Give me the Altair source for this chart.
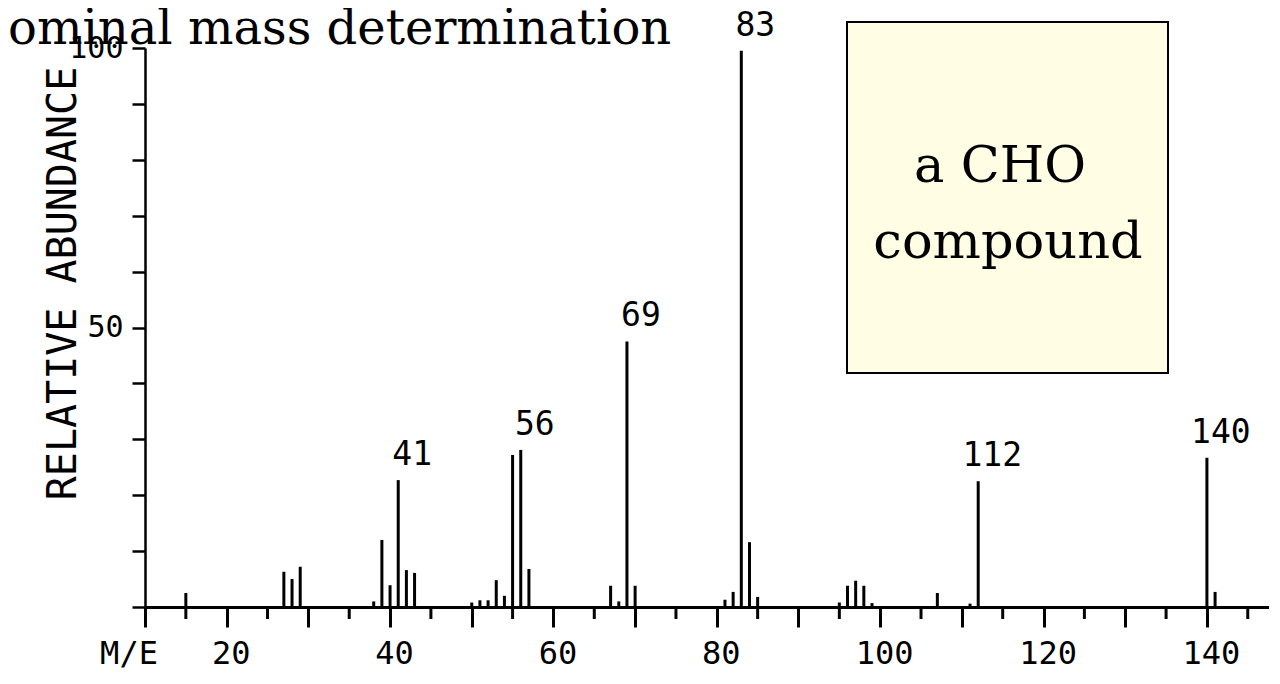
import altair as alt
import pandas as pd

# ---- data ----
mz = [15, 27, 28, 29, 38, 39, 40, 41, 42, 43, 50, 51, 52, 53, 54, 55, 56, 57,
      67, 68, 69, 70, 81, 82, 83, 84, 85, 95, 96, 97, 98, 99, 107, 111, 112, 140, 141]
abundance = [2.5, 6.3, 5.0, 7.2, 1.0, 12.0, 3.9, 22.7, 6.6, 6.1, 0.8, 1.2, 1.2, 4.8, 2.0, 27.2, 28.1, 6.8,
             3.8, 1.0, 47.5, 3.8, 1.3, 2.7, 99.5, 11.6, 1.8, 0.8, 3.8, 4.7, 3.8, 0.7, 2.5, 0.6, 22.5, 26.7, 2.7]
label_mz = [41, 56, 69, 83, 112, 140]
major_ticks = [10, 20, 30, 40, 50, 60, 70, 80, 90, 100, 110, 120, 130, 140]
minor_ticks = [15, 25, 35, 45, 55, 65, 75, 85, 95, 105, 115, 125, 135, 145]
y_ticks = [0, 10, 20, 30, 40, 50, 60, 70, 80, 90, 100]
title_text = ["ominal mass determination"]
box_lines = ["a CHO", "compound"]
y_title = "RELATIVE ABUNDANCE"
x_title = ["M/E"]

MONO = "DejaVu Sans Mono"
SERIF = "DejaVu Serif"

spec = pd.DataFrame({"mz": mz, "abundance": abundance})
lab = spec[spec["mz"].isin(label_mz)].copy()
lab["label"] = lab["mz"].astype(str)
minor = pd.DataFrame({"mz": minor_ticks, "abundance": [0] * len(minor_ticks)})

xscale = alt.Scale(domain=[10, 147.6], nice=False, zero=False)
yscale = alt.Scale(domain=[0, 100], nice=False)

x_axis = alt.Axis(values=major_ticks, tickSize=20, tickWidth=3, tickColor="black",
                  domainWidth=3, domainColor="black", grid=False, title=None,
                  labelExpr="datum.value % 20 == 0 ? datum.label : ''",
                  labelFont=MONO, labelFontSize=32, labelColor="black",
                  labelPadding=11, labelOffset=4, labelOverlap=False)
y_axis = alt.Axis(values=y_ticks, tickSize=13, tickWidth=2.5, tickColor="black",
                  domainWidth=2.5, domainColor="black", grid=False,
                  labelExpr="datum.value == 50 || datum.value == 100 ? datum.label : ''",
                  labelFont=MONO, labelFontSize=30, labelColor="black", labelPadding=9,
                  labelOverlap=False,
                  title=y_title, titleFont=MONO, titleFontSize=40, titleFontWeight="normal",
                  titleColor="black", titleX=-82, titleY=235, titleAngle=270,
                  titleAlign="center", titleBaseline="middle")

X = alt.X("mz:Q", scale=xscale, axis=x_axis)
Y = alt.Y("abundance:Q", scale=yscale, axis=y_axis)

bars = alt.Chart(spec).mark_rule(color="black", strokeWidth=3).encode(
    x=X, y=Y, y2=alt.datum(0),
)

minor_rules = alt.Chart(minor).mark_rule(color="black", strokeWidth=3).encode(
    x=X, y=alt.value(559), y2=alt.value(571),
)

peak_labels = alt.Chart(lab).mark_text(font=MONO, fontSize=33, dx=14, dy=-25,
                                       baseline="middle", color="black").encode(
    x=X, y=Y, text="label:N",
)

me_text = alt.Chart(pd.DataFrame({"t": x_title})).mark_text(
    font=MONO, fontSize=32, baseline="middle", align="center", color="black").encode(
    x=alt.value(-16), y=alt.value(606), text="t:N")

title = alt.Chart(pd.DataFrame({"t": title_text})).mark_text(
    font=SERIF, fontSize=48, align="left", baseline="alphabetic", color="black").encode(
    x=alt.value(-137), y=alt.value(-4), text="t:N")

box = alt.Chart(pd.DataFrame({"b": [0]})).mark_rect(
    fill="#FFFDE4", stroke="black", strokeWidth=2).encode(
    x=alt.value(702), x2=alt.value(1023), y=alt.value(-26), y2=alt.value(325))

box_t1 = alt.Chart(pd.DataFrame({"t": [box_lines[0]]})).mark_text(
    font=SERIF, fontSize=51, align="center", baseline="alphabetic", color="black").encode(
    x=alt.value(855), y=alt.value(134), text="t:N")
box_t2 = alt.Chart(pd.DataFrame({"t": [box_lines[1]]})).mark_text(
    font=SERIF, fontSize=51, align="center", baseline="alphabetic", color="black").encode(
    x=alt.value(863), y=alt.value(210), text="t:N")

chart = alt.layer(bars, minor_rules, peak_labels, me_text, title, box, box_t1, box_t2).properties(
    width=1124, height=559,
    padding={"left": 137, "top": 40, "right": 0, "bottom": 65},
    autosize=alt.AutoSizeParams(type="none"),
    background="white",
).configure_view(stroke=None)

chart.save("out.html", embed_options={"renderer": "svg", "actions": False})
